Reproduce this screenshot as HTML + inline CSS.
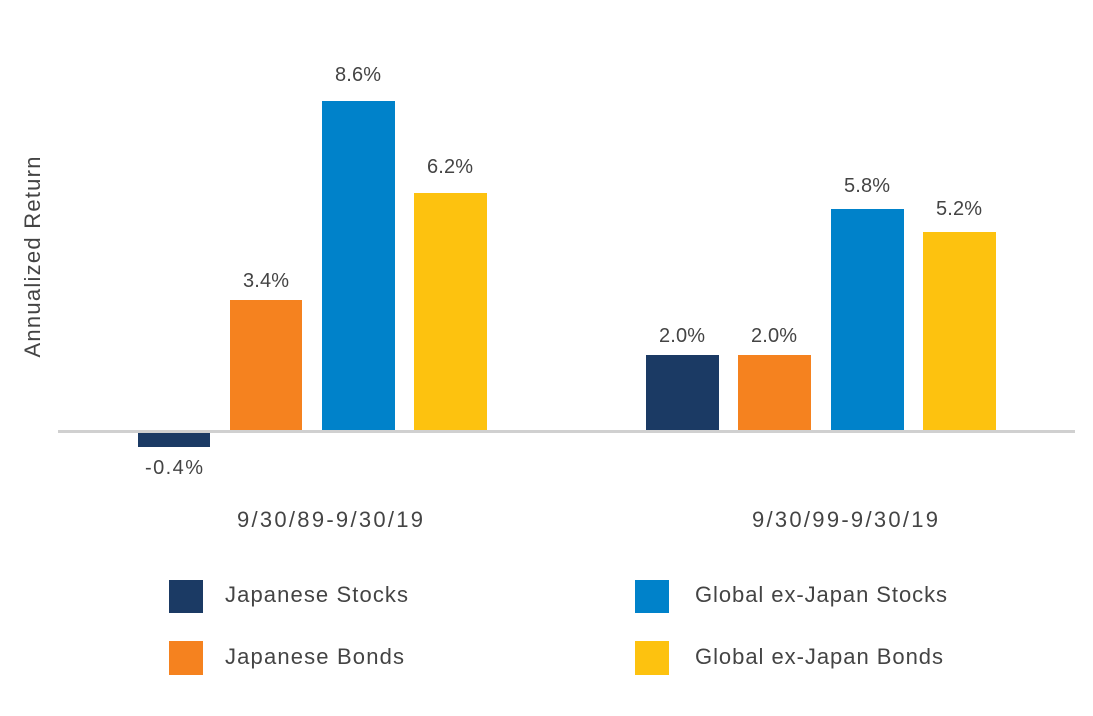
<!DOCTYPE html>
<html><head><meta charset="utf-8"><style>
body{margin:0;background:#fff;}
</style></head><body>
<svg width="1093" height="711" xmlns="http://www.w3.org/2000/svg" font-family="Liberation Sans, sans-serif" fill="#444">
<rect width="1093" height="711" fill="#fff"/>
<rect x="138" y="431" width="72" height="16" fill="#1b3a64"/>
<rect x="230" y="300" width="72" height="131" fill="#f5821f"/>
<rect x="322" y="101" width="73" height="330" fill="#0082ca"/>
<rect x="414" y="193" width="73" height="238" fill="#fdc20f"/>
<rect x="646" y="355" width="73" height="76" fill="#1b3a64"/>
<rect x="738" y="355" width="73" height="76" fill="#f5821f"/>
<rect x="831" y="209" width="73" height="222" fill="#0082ca"/>
<rect x="923" y="232" width="73" height="199" fill="#fdc20f"/>
<rect x="58" y="430" width="1017" height="3" fill="#d0d0d0"/>
<g font-size="20" text-anchor="middle">
<text x="174" y="474" textLength="58">-0.4%</text>
<text x="266" y="287" textLength="46">3.4%</text>
<text x="358" y="81" textLength="46">8.6%</text>
<text x="450" y="173" textLength="46">6.2%</text>
<text x="682" y="342" textLength="46">2.0%</text>
<text x="774" y="342" textLength="46">2.0%</text>
<text x="867" y="192" textLength="46">5.8%</text>
<text x="959" y="215" textLength="46">5.2%</text>
</g>
<g font-size="22" text-anchor="middle">
<text x="330" y="527" textLength="186">9/30/89-9/30/19</text>
<text x="845" y="527" textLength="186">9/30/99-9/30/19</text>
</g>
<text x="0" y="0" font-size="22" text-anchor="middle" textLength="201" transform="translate(40,257) rotate(-90)">Annualized Return</text>
<rect x="169" y="580" width="34" height="33" fill="#1b3a64"/>
<rect x="169" y="641" width="34" height="34" fill="#f5821f"/>
<rect x="635" y="580" width="34" height="33" fill="#0082ca"/>
<rect x="635" y="641" width="34" height="34" fill="#fdc20f"/>
<g font-size="22">
<text x="225" y="602" textLength="183">Japanese Stocks</text>
<text x="225" y="664" textLength="179">Japanese Bonds</text>
<text x="695" y="602" textLength="252">Global ex-Japan Stocks</text>
<text x="695" y="664" textLength="248">Global ex-Japan Bonds</text>
</g>
</svg>
</body></html>
